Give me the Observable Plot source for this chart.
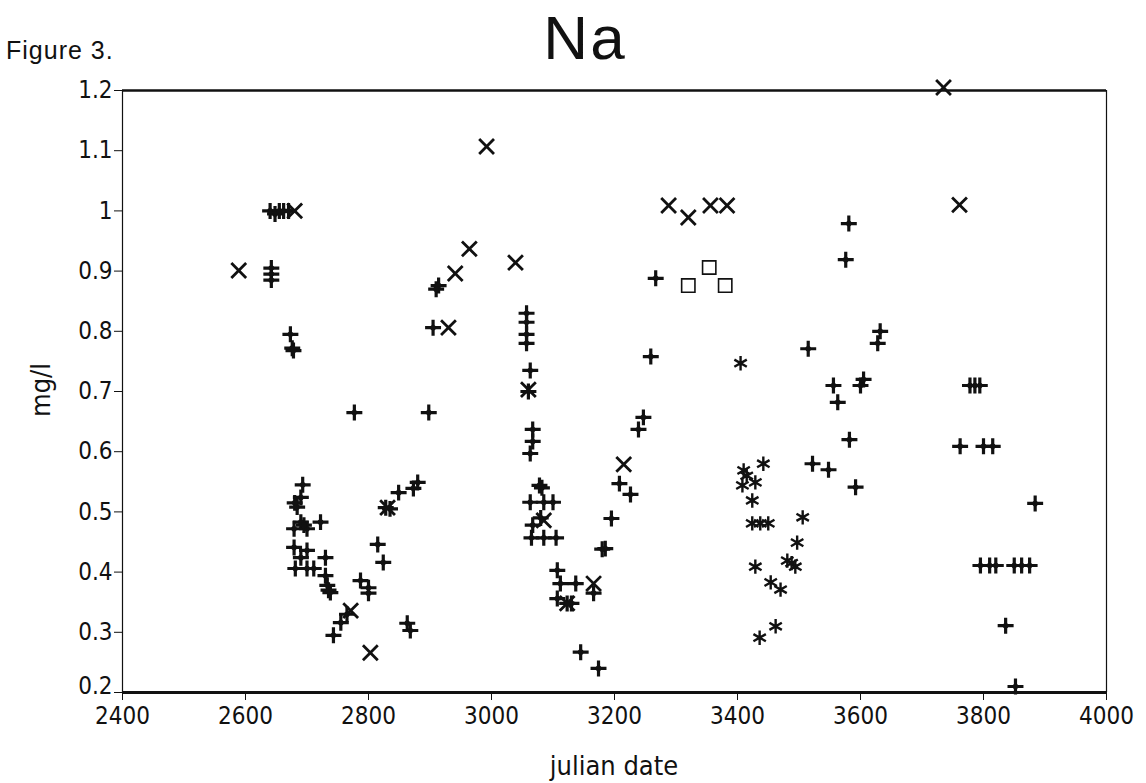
<!DOCTYPE html>
<html><head><meta charset="utf-8">
<script src="https://cdn.jsdelivr.net/npm/d3@7"></script>
<script src="https://cdn.jsdelivr.net/npm/@observablehq/plot@0.6"></script>
<style>
body{margin:0;background:#fff;}
#wrap{position:relative;width:1146px;height:783px;overflow:hidden;font-family:"Liberation Sans",Arial,sans-serif;color:#111}
#fig{position:absolute;left:6px;top:36px;font-size:25px;letter-spacing:1px;}
#title{position:absolute;left:585px;top:2px;transform:translateX(-50%);font-size:62px;letter-spacing:2px;}
#ylab{position:absolute;left:40px;top:390px;transform:translate(-50%,-50%) rotate(-90deg);font-size:27px;font-family:'Liberation Sans Narrow','DejaVu Sans Condensed','Liberation Sans',sans-serif;white-space:nowrap;}
#xlab{position:absolute;left:614px;top:765px;transform:translate(-50%,-50%);font-size:27px;font-family:'Liberation Sans Narrow','DejaVu Sans Condensed','Liberation Sans',sans-serif;white-space:nowrap;}
#chart{position:absolute;left:0;top:0}
</style></head>
<body><div id="wrap"><div id="chart"></div><div id="fig">Figure 3.</div><div id="title">Na</div><div id="ylab">mg/l</div><div id="xlab">julian date</div></div>
<script>
// Tick labels
const xTicks = [2400, 2600, 2800, 3000, 3200, 3400, 3600, 3800, 4000];
const yTicks = [0.2, 0.3, 0.4, 0.5, 0.6, 0.7, 0.8, 0.9, 1, 1.1, 1.2];

// Series "+" (plus markers)
const plusDates = [2640,2648,2655,2662,2670, 2642,2642,2642, 2673,2678,2676,
  2777,2898, 2693,2690,2684,2680,2690,2722,2679,2700,2695,2679,2700,2690,2730,2681,2700,2711,2730,2733,2738,2735,
  2815,2824,2828,2835,2849,2873,2880, 2787,2800,2800,2765,2755,2743, 2863,2868, 2905,2914,2910,
  3057,3057,3057,3057,3063,3060,3067,3067,3063,3078,3082,3063,3085,3100,3080,3067,3065,3085,3105,
  3107,3112,3137,3123,3130,3107,3166,3145,3174,
  3259,3247,3239,3208,3226,3195,3185,3180,3267,
  3515,3628,3632,3556,3605,3600,3563,3582,3522,3548,3592,3581,3576,
  3778,3786,3794,3762,3800,3815,3884,3795,3810,3820,3850,3862,3875,3836,3852];
const plusNa = [1.0,0.995,1.0,1.0,1.0, 0.905,0.895,0.885, 0.795,0.768,0.772,
  0.665,0.665, 0.545,0.524,0.508,0.515,0.483,0.483,0.472,0.472,0.478,0.441,0.436,0.424,0.424,0.406,0.406,0.406,0.394,0.378,0.366,0.37,
  0.446,0.416,0.507,0.505,0.532,0.539,0.549, 0.386,0.374,0.365,0.33,0.316,0.295, 0.315,0.303, 0.806,0.876,0.87,
  0.83,0.815,0.795,0.78,0.735,0.70,0.637,0.617,0.597,0.544,0.54,0.516,0.516,0.516,0.49,0.478,0.457,0.457,0.457,
  0.403,0.381,0.381,0.348,0.348,0.356,0.365,0.267,0.24,
  0.758,0.657,0.637,0.547,0.529,0.489,0.439,0.438,0.888,
  0.771,0.78,0.80,0.71,0.72,0.71,0.682,0.62,0.58,0.57,0.541,0.979,0.919,
  0.71,0.71,0.71,0.609,0.609,0.609,0.514,0.411,0.411,0.411,0.411,0.411,0.411,0.311,0.21];

// Series "x" (times markers)
const timesDates = [2589,2680,2930,2941,2964,2992,3039,3288,3320,3356,3383,3060,3085,3215,3166,2803,2771,3735,3761,2831,3123];
const timesNa = [0.901,1.0,0.806,0.896,0.937,1.107,0.914,1.009,0.989,1.009,1.009,0.703,0.486,0.579,0.381,0.266,0.336,1.205,1.01,0.507,0.348];

// Series "*" (asterisk markers)
const starDates = [3405,3442,3410,3429,3408,3415,3424,3424,3450,3437,3429,3454,3470,3462,3436,3506,3497,3481,3494,3488];
const starNa = [0.747,0.58,0.569,0.549,0.544,0.56,0.519,0.481,0.481,0.481,0.409,0.383,0.371,0.310,0.291,0.491,0.449,0.419,0.409,0.415];

// Series "□" (square markers)
const boxDates = [3320,3354,3380];
const boxNa = [0.876,0.906,0.876];

const toRows = (xs, ys) => xs.map((x, i) => ({date: x, na: ys[i]}));
const plusRows = toRows(plusDates, plusNa);
const timesRows = toRows(timesDates, timesNa);
const starRows = toRows(starDates, starNa);
const boxRows = toRows(boxDates, boxNa);

const narrow = "'Liberation Sans Narrow','DejaVu Sans Condensed','Liberation Sans',sans-serif";

const plot = Plot.plot({
  width: 1146, height: 783,
  marginLeft: 122, marginRight: 40, marginTop: 90, marginBottom: 91,
  x: {domain: [2400, 4000]},
  y: {domain: [0.2, 1.2]},
  style: {fontFamily: narrow, fontSize: "24px", background: "transparent", color: "#111"},
  marks: [
    Plot.axisY({ticks: yTicks, tickFormat: d => (d === yTicks[0] ? "" : String(d)), tickSize: 8, tickPadding: 2, label: null, fontSize: 24}),
    Plot.axisY({ticks: [yTicks[0]], tickFormat: d => String(d), tickSize: 0, tickPadding: 10, dy: -6, label: null, fontSize: 24}),
    Plot.axisX({ticks: xTicks, tickFormat: d => String(d), tickSize: 8, tickPadding: 6, label: null, fontSize: 24}),
    Plot.ruleY([1.2], {strokeWidth: 2.5, stroke: "#111"}),
    Plot.ruleY([0.2], {strokeWidth: 3, stroke: "#111"}),
    Plot.ruleX([2400], {strokeWidth: 1.2, stroke: "#111"}),
    Plot.ruleX([4000], {strokeWidth: 1.2, stroke: "#111"}),
    Plot.dot(plusRows, {x: "date", y: "na", symbol: "plus", r: 5.2, stroke: "#111", strokeWidth: 3.2}),
    Plot.dot(plusRows, {x: "date", y: "na", r: 2.8, fill: "#111"}),
    Plot.dot(timesRows, {x: "date", y: "na", symbol: "times", r: 6.8, stroke: "#111", strokeWidth: 2.8}),
    Plot.dot(starRows, {x: "date", y: "na", symbol: "asterisk", r: 6.8, stroke: "#111", strokeWidth: 2.4}),
    Plot.dot(boxRows, {x: "date", y: "na", symbol: "square", r: 7.5, fill: "none", stroke: "#111", strokeWidth: 1.6})
  ]
});
document.getElementById("chart").appendChild(plot);
</script>
</body></html>
